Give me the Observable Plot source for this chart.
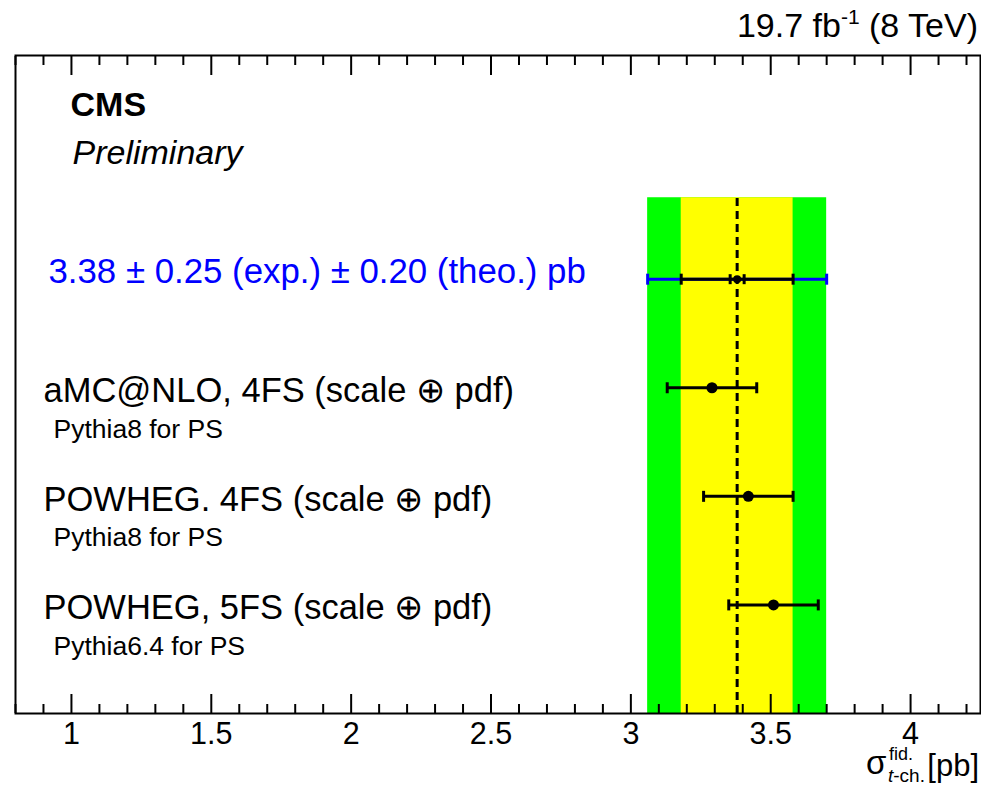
<!DOCTYPE html>
<html>
<head>
<meta charset="utf-8">
<script src="https://cdn.jsdelivr.net/npm/d3@7"></script>
<script src="https://cdn.jsdelivr.net/npm/@observablehq/plot@0.6"></script>
<style>
  html, body { margin: 0; padding: 0; background: #fff; }
  #chart svg { display: block; }
</style>
</head>
<body>
<div id="chart"></div>
<script>
// ---- data ----
const measured = 3.38;
const expErr = 0.25;
const theoErr = 0.20;
const statErr = 0.025;
const totalErr = 0.32;
const measuredLabel = "3.38 \u00b1 0.25 (exp.) \u00b1 0.20 (theo.) pb";
const measuredRow = 4;

const models = ["aMC@NLO, 4FS (scale \u2295 pdf)", "POWHEG. 4FS (scale \u2295 pdf)", "POWHEG, 5FS (scale \u2295 pdf)"];
const showers = ["Pythia8 for PS", "Pythia8 for PS", "Pythia6.4 for PS"];
const modelValues = [3.29, 3.42, 3.51];
const modelLow = [3.13, 3.26, 3.35];
const modelHigh = [3.45, 3.58, 3.67];
const modelRows = [3, 2, 1];

const bandTop = 4.75;
const majorTicks = [1, 1.5, 2, 2.5, 3, 3.5, 4];
const minorTicks = d3.range(8, 43).map(d => d / 10).filter(d => !majorTicks.includes(d));

// ---- derived tables ----
const modelData = models.map((m, i) => ({
  label: m, shower: showers[i], v: modelValues[i], lo: modelLow[i], hi: modelHigh[i], row: modelRows[i]
}));
const bands = [
  {x1: measured - totalErr, x2: measured + totalErr, fill: "#00ff00"},
  {x1: measured - theoErr, x2: measured + theoErr, fill: "#ffff00"}
];
const meas = [{v: measured, row: measuredRow,
  tlo: measured - totalErr, thi: measured + totalErr,
  hlo: measured - theoErr, hhi: measured + theoErr,
  slo: measured - statErr, shi: measured + statErr,
  label: measuredLabel}];

const capSymbol = {
  draw(ctx, size) {
    const r = Math.sqrt(size / Math.PI);
    ctx.moveTo(0, -r);
    ctx.lineTo(0, r);
  }
};

const font = "'Liberation Sans', Helvetica, Arial, sans-serif";

const chart = Plot.plot({
  width: 981,
  height: 786,
  marginLeft: 15,
  marginRight: 1,
  marginTop: 55,
  marginBottom: 73,
  style: {fontFamily: font, background: "#fff", color: "#000"},
  x: {domain: [0.8, 4.25]},
  y: {domain: [0, 6.06], axis: null},
  marks: [
    Plot.rect(bands, {x1: "x1", x2: "x2", y1: 0, y2: bandTop, fill: "fill"}),
    Plot.ruleX([measured], {y1: 0, y2: bandTop, stroke: "#000", strokeWidth: 3, strokeDasharray: "8,5"}),
    // measurement: total (blue), theo (black), stat
    Plot.link(meas, {x1: "tlo", x2: "thi", y1: "row", y2: "row", stroke: "#0000ff", strokeWidth: 3}),
    Plot.dot(meas, {x: "tlo", y: "row", symbol: capSymbol, r: 5.5, stroke: "#0000ff", strokeWidth: 3, fill: "none"}),
    Plot.dot(meas, {x: "thi", y: "row", symbol: capSymbol, r: 5.5, stroke: "#0000ff", strokeWidth: 3, fill: "none"}),
    Plot.link(meas, {x1: "hlo", x2: "hhi", y1: "row", y2: "row", stroke: "#000", strokeWidth: 3}),
    Plot.dot(meas, {x: "hlo", y: "row", symbol: capSymbol, r: 5.5, stroke: "#000", strokeWidth: 3, fill: "none"}),
    Plot.dot(meas, {x: "hhi", y: "row", symbol: capSymbol, r: 5.5, stroke: "#000", strokeWidth: 3, fill: "none"}),
    Plot.dot(meas, {x: "slo", y: "row", symbol: capSymbol, r: 5, stroke: "#000", strokeWidth: 3, fill: "none"}),
    Plot.dot(meas, {x: "shi", y: "row", symbol: capSymbol, r: 5, stroke: "#000", strokeWidth: 3, fill: "none"}),
    Plot.dot(meas, {x: "v", y: "row", r: 4, fill: "#000", stroke: "none"}),
    // predictions
    Plot.link(modelData, {x1: "lo", x2: "hi", y1: "row", y2: "row", stroke: "#000", strokeWidth: 3}),
    Plot.dot(modelData, {x: "lo", y: "row", symbol: capSymbol, r: 5.5, stroke: "#000", strokeWidth: 3, fill: "none"}),
    Plot.dot(modelData, {x: "hi", y: "row", symbol: capSymbol, r: 5.5, stroke: "#000", strokeWidth: 3, fill: "none"}),
    Plot.dot(modelData, {x: "v", y: "row", r: 5.5, fill: "#000", stroke: "none"}),
    // labels
    Plot.text(meas, {y: "row", text: "label", frameAnchor: "left", dx: 33, dy: 4, lineAnchor: "bottom", textAnchor: "start", fontSize: 34.8, fill: "#0000ff"}),
    Plot.text(modelData, {y: "row", text: "label", frameAnchor: "left", dx: 28, dy: 14.5, lineAnchor: "bottom", textAnchor: "start", fontSize: 34.5, fill: "#000"}),
    Plot.text(modelData, {y: "row", text: "shower", frameAnchor: "left", dx: 38, dy: 50, lineAnchor: "bottom", textAnchor: "start", fontSize: 26.5, fill: "#000"}),
    Plot.text(["CMS"], {frameAnchor: "top-left", dx: 55, dy: 60, lineAnchor: "bottom", textAnchor: "start", fontSize: 34, fontWeight: "bold", fill: "#000"}),
    Plot.text(["Preliminary"], {frameAnchor: "top-left", dx: 57, dy: 108, lineAnchor: "bottom", textAnchor: "start", fontSize: 34, fontStyle: "italic", fill: "#000"}),
    Plot.frame({stroke: "#000", strokeWidth: 2}),
    // axes (ticks inward, mirrored on top)
    Plot.axisX(majorTicks, {anchor: "bottom", tickSize: -19, tickPadding: 28, strokeWidth: 2, fontSize: 30.5, label: null, tickFormat: d => String(d)}),
    Plot.axisX(minorTicks, {anchor: "bottom", tickSize: -9, strokeWidth: 2, fill: "none", label: null}),
    Plot.axisX(majorTicks, {anchor: "top", tickSize: -19, strokeWidth: 2, fill: "none", label: null}),
    Plot.axisX(minorTicks, {anchor: "top", tickSize: -9, strokeWidth: 2, fill: "none", label: null})
  ]
});

document.getElementById("chart").appendChild(chart);

// ---- texts with super/subscripts ----
const svg = d3.select(chart);
const lumi = svg.append("text")
  .attr("x", 978).attr("y", 37)
  .attr("text-anchor", "end")
  .attr("font-family", font)
  .attr("font-size", 34)
  .attr("fill", "#000");
lumi.append("tspan").text("19.7 fb");
lumi.append("tspan").attr("font-size", 21).attr("dy", -13).text("-1");
lumi.append("tspan").attr("dy", 13).text(" (8 TeV)");

const lab = svg.append("g").attr("font-family", font).attr("fill", "#000").attr("text-anchor", "start");
lab.append("text").attr("x", 866).attr("y", 774).attr("font-size", 33).text("\u03c3");
lab.append("text").attr("x", 889).attr("y", 760).attr("font-size", 18).text("fid.");
const sub = lab.append("text").attr("x", 888).attr("y", 782).attr("font-size", 19);
sub.append("tspan").attr("font-style", "italic").text("t");
sub.append("tspan").text("-ch.");
lab.append("text").attr("x", 979).attr("y", 776).attr("text-anchor", "end").attr("font-size", 31).text("[pb]");
</script>
</body>
</html>
